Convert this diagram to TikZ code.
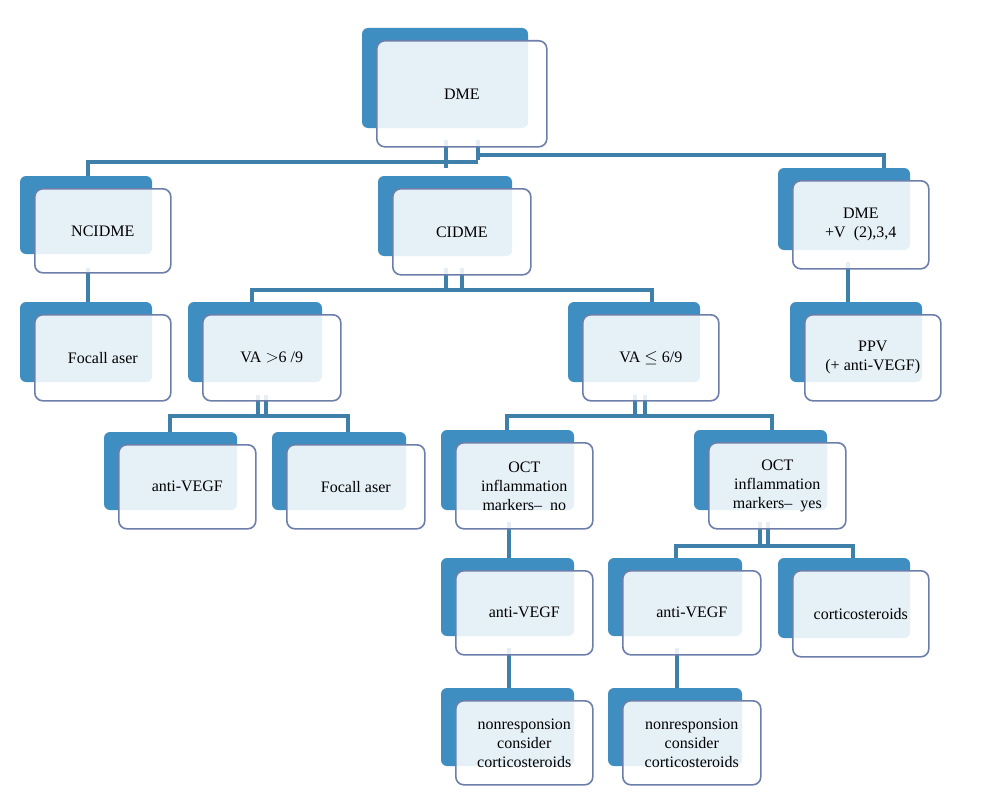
\documentclass[tikz,border=0pt]{standalone}
\usepackage{fontspec}
\setmainfont{Liberation Serif}
\begin{document}
\begin{tikzpicture}[x=1pt,y=-1pt,
  dark/.style={fill=darkb},
  front/.style={draw=edgeb,line width=1.6pt,fill=white,fill opacity=0.87,text opacity=1,rounded corners=8pt,align=center,font=\fontsize{16}{19}\selectfont,inner sep=2pt},
  conn/.style={draw=lineb,line width=4pt}]
\definecolor{darkb}{HTML}{3F8EC2}
\definecolor{edgeb}{HTML}{6C7FAA}
\definecolor{lineb}{HTML}{3E80AA}
\useasboundingbox[fill=white] (0,0) rectangle (987,800);
\newcommand\bx[6]{%
 \fill[dark,rounded corners=6pt] (#2-14,#3-12) rectangle ++(#4-4,#5-6);
 \node[front,minimum width=#4pt,minimum height=#5pt,anchor=north west] (#1) at (#2,#3) {#6};}
% connectors
\draw[conn] (446,140) -- (446,168); \draw[conn] (478,140) -- (478,160);
\draw[conn] (88,162) -- (478,162);
\draw[conn] (88,160) -- (88,180);
\draw[conn] (478,155) -- (884,155) -- (884,170);
\draw[conn] (88,268) -- (88,305);
\draw[conn] (446,268) -- (446,290); \draw[conn] (462,268) -- (462,290);
\draw[conn] (252,305) -- (252,290) -- (652,290) -- (652,305);
\draw[conn] (848,262) -- (848,305);
\draw[conn] (258,395) -- (258,416); \draw[conn] (266,395) -- (266,416);
\draw[conn] (170,434) -- (170,416) -- (348,416) -- (348,434);
\draw[conn] (635,395) -- (635,416); \draw[conn] (645,395) -- (645,416);
\draw[conn] (507,434) -- (507,416) -- (772,416) -- (772,434);
\draw[conn] (509,522) -- (509,562);
\draw[conn] (509,648) -- (509,690);
\draw[conn] (760,522) -- (760,546); \draw[conn] (768,522) -- (768,546);
\draw[conn] (676,562) -- (676,546) -- (853,546) -- (853,562);
\draw[conn] (677,648) -- (677,690);
% boxes
\bx{dme}{376}{40}{170}{106}{DME}
\bx{ncidme}{34}{188}{136}{84}{NCIDME}
\bx{cidme}{392}{188}{138}{86}{CIDME}
\bx{dmev}{792}{180}{136}{88}{DME\\+V\enspace(2),3,4}
\bx{fl1}{34}{314}{136}{86}{Focall aser}
\bx{vagt}{202}{314}{138}{86}{VA $>$6 /9}
\bx{vale}{582}{314}{136}{86}{VA $\leq$ 6/9}
\bx{ppv}{804}{314}{136}{86}{PPV\\(+ anti-VEGF)}
\bx{av1}{118}{444}{137}{84}{anti-VEGF}
\bx{fl2}{286}{444}{138}{84}{Focall aser}
\bx{octno}{455}{442}{137}{86}{OCT\\inflammation\\markers-- \ no}
\bx{octyes}{708}{442}{137}{86}{OCT\\inflammation\\markers-- \ yes}
\bx{av2}{455}{570}{137}{84}{anti-VEGF}
\bx{av3}{622}{570}{138}{84}{anti-VEGF}
\bx{cort}{792}{570}{136}{86}{corticosteroids}
\bx{nr1}{455}{700}{137}{84}{nonresponsion\\consider\\corticosteroids}
\bx{nr2}{622}{700}{138}{84}{nonresponsion\\consider\\corticosteroids}
\end{tikzpicture}
\end{document}
